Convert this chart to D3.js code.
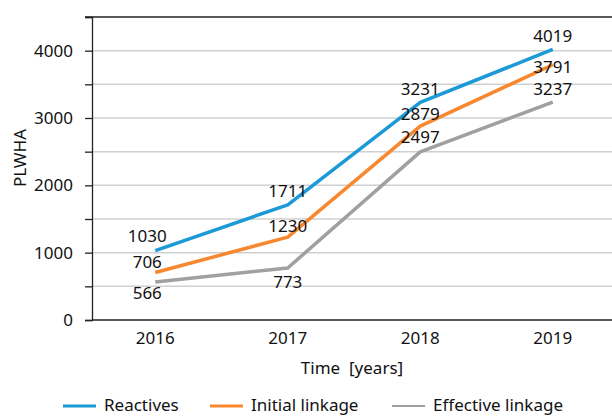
<!DOCTYPE html>
<html><head><meta charset="utf-8">
<script src="https://cdn.jsdelivr.net/npm/d3@7"></script>
<style>body{margin:0;background:#fff}svg{display:block}text{font-family:"Noto Sans",sans-serif;fill:#111}</style>
</head><body><svg id="c" width="612" height="417"></svg>
<script>
const years = ["2016","2017","2018","2019"];
const reactives = [1030, 1711, 3231, 4019];
const initialLinkage = [706, 1230, 2879, 3791];
const effectiveLinkage = [566, 773, 2497, 3237];
const seriesNames = ["Reactives", "Initial linkage", "Effective linkage"];
const yTicks = [0, 1000, 2000, 3000, 4000];

const colors = ["#1b9ad7", "#f7882f", "#a0a0a0"];
// label baseline offsets (layout only)
const labelDy = [[-9,-8,-7.5,-7],[-4.5,-5.5,-6,8],[17,20,-9,-7]];
const labelDx = [[-8,0,0,0],[-8,0,0,0],[-8,0,0,0]];

const svg = d3.select("#c");
const x = d3.scaleBand().domain(years).range([89, 619]).padding(0);
const cx = d => x(d) + x.bandwidth()/2;
const y = d3.scaleLinear().domain([0, 4500]).range([320, 17]);

const gridVals = d3.range(500, 4501, 500);
svg.append("g").selectAll("line").data(gridVals.filter(v=>v<4500)).join("line")
  .attr("x1", 92).attr("x2", 612).attr("y1", d=>y(d)).attr("y2", d=>y(d))
  .attr("stroke", "#d0d0d0").attr("stroke-width", 1.5);
svg.append("line").attr("x1", 85).attr("x2", 612).attr("y1", y(4500)).attr("y2", y(4500))
  .attr("stroke", "#222").attr("stroke-width", 1.3);

const yAxis = d3.axisLeft(y).tickValues(d3.range(0, 4501, 500)).tickSize(7)
  .tickFormat(d => yTicks.includes(d) ? d : "");
const gy = svg.append("g").attr("transform", "translate(92,0)").call(yAxis);
gy.select(".domain").attr("stroke", "#222").attr("stroke-width", 1.3);
gy.selectAll(".tick line").attr("stroke", "#222").attr("stroke-width", 1.3);
gy.selectAll(".tick text").attr("x", -19).attr("font-size", 17).attr("font-family", "Noto Sans").attr("fill", "#111");

const xAxis = d3.axisBottom(x).tickSize(0).tickPadding(12);
const gx = svg.append("g").attr("transform", "translate(0,320)").call(xAxis);
gx.select(".domain").remove();
svg.append("line").attr("x1", 92).attr("x2", 612).attr("y1", 320).attr("y2", 320)
  .attr("stroke", "#222").attr("stroke-width", 1.3);
gx.selectAll(".tick text").attr("font-size", 17).attr("font-family", "Noto Sans").attr("fill", "#111").attr("dy", "0.71em");

svg.append("text").attr("x", 352).attr("y", 374).attr("text-anchor", "middle")
  .attr("font-size", 17).style("white-space","pre").text("Time  [years]");
svg.append("text").attr("transform", "translate(26,158) rotate(-90)").attr("text-anchor", "middle")
  .attr("font-size", 17).text("PLWHA");

const allSeries = [reactives, initialLinkage, effectiveLinkage];
const line = d3.line().x((d,i)=>cx(years[i])).y(d=>y(d));
allSeries.forEach((s, k) => {
  svg.append("path").datum(s).attr("d", line).attr("fill", "none")
    .attr("stroke", colors[k]).attr("stroke-width", 3.5).attr("stroke-linejoin", "round");
});
allSeries.forEach((s, k) => {
  svg.append("g").selectAll("text").data(s).join("text")
    .attr("x", (d,i)=>cx(years[i]) + labelDx[k][i])
    .attr("y", (d,i)=>y(d) + labelDy[k][i])
    .attr("text-anchor", "middle").attr("font-size", 17).text(d=>d);
});

const legX = [63, 210, 392];
seriesNames.forEach((n, k) => {
  svg.append("line").attr("x1", legX[k]).attr("x2", legX[k]+33).attr("y1", 406).attr("y2", 406)
    .attr("stroke", colors[k]).attr("stroke-width", k==2 ? 2 : 3);
  svg.append("text").attr("x", legX[k]+41).attr("y", 411).attr("font-size", 17).text(n);
});
</script></body></html>
